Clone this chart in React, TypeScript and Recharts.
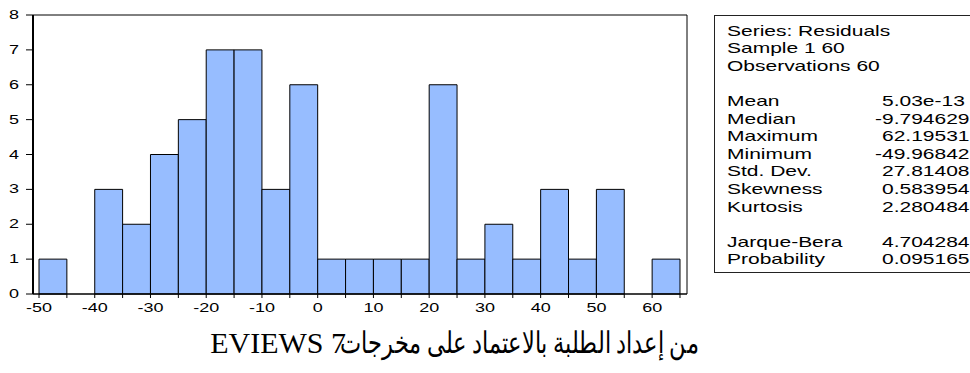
import React from "react";
import {
  Bar,
  BarChart,
  ReferenceLine,
  XAxis,
  YAxis,
} from "recharts";

// Residual histogram: bins are 5 wide, labelled by their left edge
const BIN_START = [
  -50, -45, -40, -35, -30, -25, -20, -15, -10, -5, 0, 5, 10, 15, 20, 25, 30,
  35, 40, 45, 50, 55, 60,
];
const COUNTS = [
  1, 0, 3, 2, 4, 5, 7, 7, 3, 6, 1, 1, 1, 1, 6, 1, 2, 1, 3, 1, 3, 0, 1,
];
const BIN_WIDTH = 5;

const X_TICKS = [
  -50, -45, -40, -35, -30, -25, -20, -15, -10, -5, 0, 5, 10, 15, 20, 25, 30,
  35, 40, 45, 50, 55, 60, 65,
];
const Y_TICKS = [0, 1, 2, 3, 4, 5, 6, 7, 8];

// Summary statistics panel
const STAT_HEADER = ["Series: Residuals", "Sample 1 60", "Observations 60"];
const STAT_NAMES = [
  "Mean",
  "Median",
  "Maximum",
  "Minimum",
  "Std. Dev.",
  "Skewness",
  "Kurtosis",
];
const STAT_VALUES = [
  "5.03e-13",
  "-9.794629",
  "62.19531",
  "-49.96842",
  "27.81408",
  "0.583954",
  "2.280484",
];
const TEST_NAMES = ["Jarque-Bera", "Probability"];
const TEST_VALUES = ["4.704284", "0.095165"];

const CAPTION_AR = "من إعداد الطلبة بالاعتماد على مخرجات";
const CAPTION_LAT = "EVIEWS 7";

// layout
const CHART_W = 700;
const CHART_H = 320;
const Y_AXIS_W = 33;
const MARGIN = { top: 15, right: 13, bottom: 0, left: 0 };
const PAD_L = 6;
const PAD_R = 7;
const PLOT_W = CHART_W - MARGIN.left - MARGIN.right - Y_AXIS_W;

// the value axis runs a few pixels past the first and last bin edge
const FIRST = BIN_START[0];
const LAST = BIN_START[BIN_START.length - 1] + BIN_WIDTH;
const PX_PER_UNIT = (PLOT_W - PAD_L - PAD_R) / (LAST - FIRST);
const X_MIN = FIRST - PAD_L / PX_PER_UNIT;
const X_MAX = LAST + PAD_R / PX_PER_UNIT;
// a hair under the bin spacing, otherwise recharts shrinks bars to 90%
const BAR_PX = PX_PER_UNIT * BIN_WIDTH - 0.01;

const STRETCH = 1.5;
const SANS = '"Liberation Sans", Arial, sans-serif';
const SERIF = '"Liberation Serif", "Times New Roman", serif';

const data = BIN_START.map((b, i) => ({
  mid: b + BIN_WIDTH / 2,
  count: COUNTS[i],
}));

function XTick(props: any) {
  const { x, y, payload } = props;
  if (payload.value % 10 !== 0) return null;
  return (
    <g transform={`translate(${x},${y})`}>
      <text
        transform={`scale(${STRETCH},1)`}
        textAnchor="middle"
        dy={12}
        fontSize={12}
        fontFamily={SANS}
        fill="#000"
      >
        {payload.value}
      </text>
    </g>
  );
}

function YTick(props: any) {
  const { x, y, payload } = props;
  return (
    <g transform={`translate(${x},${y})`}>
      <text
        transform={`scale(${STRETCH},1)`}
        textAnchor="end"
        dy={4}
        fontSize={12}
        fontFamily={SANS}
        fill="#000"
      >
        {payload.value}
      </text>
    </g>
  );
}

function StatText({ x, y, children }: { x: number; y: number; children: string }) {
  return (
    <text
      transform={`translate(${x},${y}) scale(${STRETCH},1)`}
      fontSize={14}
      fontFamily={SANS}
      fill="#000"
    >
      {children}
    </text>
  );
}

function StatsPanel() {
  const LABEL_X = 727;
  const VALUE_X = 882;
  const MINUS_W = 0.333 * 14 * STRETCH;
  const row = (i: number) => 35.5 + 17.6 * i;
  const valueX = (v: string) => (v.startsWith("-") ? VALUE_X - MINUS_W : VALUE_X);

  return (
    <svg
      width={970}
      height={373}
      style={{ position: "absolute", left: 0, top: 0, pointerEvents: "none" }}
    >
      <rect x={714.5} y={15.5} width={300} height={257} fill="none" stroke="#222" strokeWidth={1} />
      {STAT_HEADER.map((t, i) => (
        <StatText key={t} x={LABEL_X} y={row(i)}>
          {t}
        </StatText>
      ))}
      {STAT_NAMES.map((t, i) => (
        <React.Fragment key={t}>
          <StatText x={LABEL_X} y={row(i + 4)}>
            {t}
          </StatText>
          <StatText x={valueX(STAT_VALUES[i])} y={row(i + 4)}>
            {STAT_VALUES[i]}
          </StatText>
        </React.Fragment>
      ))}
      {TEST_NAMES.map((t, i) => (
        <React.Fragment key={t}>
          <StatText x={LABEL_X} y={row(i + 12)}>
            {t}
          </StatText>
          <StatText x={valueX(TEST_VALUES[i])} y={row(i + 12)}>
            {TEST_VALUES[i]}
          </StatText>
        </React.Fragment>
      ))}
    </svg>
  );
}

export default function App() {
  return (
    <div
      style={{
        position: "absolute",
        left: 0,
        top: 0,
        width: 970,
        height: 373,
        overflow: "hidden",
        background: "#fff",
      }}
    >
      <BarChart
        width={CHART_W}
        height={CHART_H}
        data={data}
        margin={MARGIN}
        barCategoryGap={0}
        barGap={0}
      >
        <XAxis
          dataKey="mid"
          type="number"
          domain={[X_MIN, X_MAX]}
          allowDataOverflow
          ticks={X_TICKS}
          interval={0}
          height={26}
          tickSize={4}
          tickMargin={2}
          tick={<XTick />}
          axisLine={{ stroke: "#000", strokeWidth: 1.5 }}
          tickLine={{ stroke: "#000" }}
        />
        <YAxis
          width={Y_AXIS_W}
          domain={[0, 8]}
          ticks={Y_TICKS}
          interval={0}
          tickSize={7}
          tickMargin={7}
          tick={<YTick />}
          axisLine={{ stroke: "#000", strokeWidth: 2 }}
          tickLine={{ stroke: "#000" }}
        />
        <ReferenceLine y={8} stroke="#000" strokeWidth={1} />
        <ReferenceLine x={X_MAX} stroke="#000" strokeWidth={1} />
        <Bar
          dataKey="count"
          barSize={BAR_PX}
          fill="#97BDFF"
          stroke="#000"
          strokeWidth={1}
          isAnimationActive={false}
        />
      </BarChart>
      <StatsPanel />
      <div
        dir="rtl"
        style={{
          position: "absolute",
          right: 272,
          top: 326,
          whiteSpace: "nowrap",
          fontFamily: SERIF,
          fontSize: 30,
          lineHeight: "34px",
          color: "#000",
          transform: "scaleX(0.75)",
          transformOrigin: "right",
        }}
      >
        {CAPTION_AR}
      </div>
      <div
        style={{
          position: "absolute",
          right: 624,
          top: 326,
          whiteSpace: "nowrap",
          fontFamily: SERIF,
          fontSize: 30,
          lineHeight: "34px",
          color: "#000",
        }}
      >
        {CAPTION_LAT}
      </div>
    </div>
  );
}
